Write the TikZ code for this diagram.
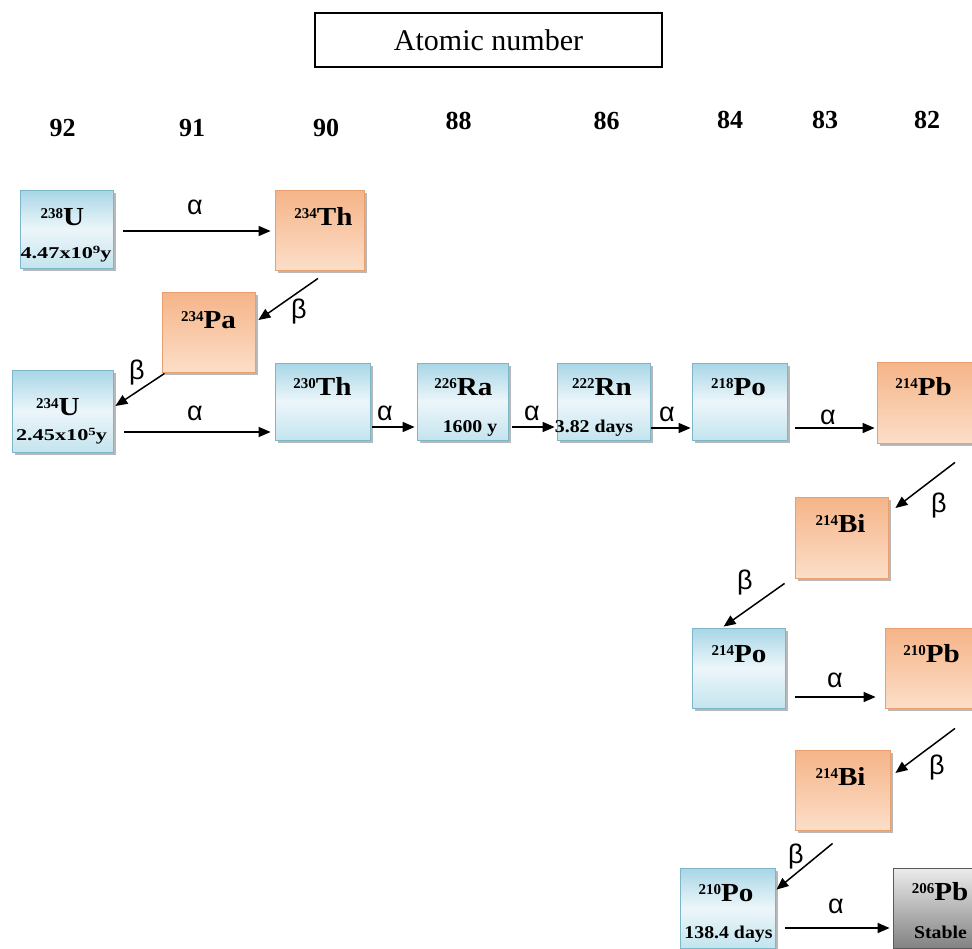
\documentclass[tikz,border=0pt]{standalone}
\usepackage{fontspec}
\setmainfont{Liberation Serif}
\newfontfamily\gk{Liberation Sans}
\usetikzlibrary{arrows.meta,shadows,calc}
\definecolor{bluetop}{RGB}{168,214,230}
\definecolor{bluemid}{RGB}{236,246,250}
\definecolor{bluebot}{RGB}{196,228,238}
\definecolor{blueedge}{RGB}{125,182,200}
\definecolor{orgtop}{RGB}{245,180,136}
\definecolor{orgbot}{RGB}{252,222,200}
\definecolor{orgedge}{RGB}{232,160,112}
\definecolor{graytop}{RGB}{236,236,236}
\definecolor{graybot}{RGB}{130,130,130}
\definecolor{grayedge}{RGB}{90,90,90}
\newcommand{\nuc}[2]{\raisebox{6.5pt}{\fontsize{15}{15}\selectfont #1}\scalebox{1.12}[1]{#2}}
\newcommand{\wlab}[1]{\scalebox{1.1}[1]{#1}}
\newcommand{\wlabx}[3]{\scalebox{1.35}[1]{#1\raisebox{5pt}{\fontsize{11}{11}\selectfont #2}#3}}
\begin{document}
\begin{tikzpicture}[x=1pt,y=-1pt,
  sh/.style={drop shadow={shadow xshift=3pt,shadow yshift=-3pt,fill=black!35,opacity=0.8}},
  bluebox/.style={sh,draw=blueedge,line width=0.8pt,top color=bluetop,bottom color=bluebot,middle color=bluemid,inner sep=0pt},
  orgbox/.style={sh,draw=orgedge,line width=0.8pt,top color=orgtop,bottom color=orgbot,inner sep=0pt},
  graybox/.style={sh,draw=grayedge,line width=0.8pt,top color=graytop,bottom color=graybot,inner sep=0pt},
  iso/.style={font=\bfseries\fontsize{26}{26}\selectfont,inner sep=0pt,anchor=base},
  life/.style={font=\bfseries\fontsize{16.5}{16.5}\selectfont,inner sep=0pt,anchor=base},
  life2/.style={font=\bfseries\fontsize{18}{18}\selectfont,inner sep=0pt,anchor=base},
  num/.style={font=\bfseries\fontsize{26}{26}\selectfont,inner sep=0pt},
  greek/.style={font=\gk\fontsize{27}{27}\selectfont,inner sep=0pt},
  arr/.style={line width=1.5pt,-{Triangle[length=12pt,width=10pt]}}]
\useasboundingbox (0,0) rectangle (972,948);

% header
\node[draw,line width=1.2pt,minimum width=347pt,minimum height=54pt,inner sep=0pt,
  font=\fontsize{30}{30}\selectfont] (hdr) at (488.5,40) {Atomic number};
\node[num] (n92) at (62.5,128) {92};
\node[num] (n91) at (192,128) {91};
\node[num] (n90) at (326,128) {90};
\node[num] (n88) at (458.5,121) {88};
\node[num] (n86) at (606.5,121) {86};
\node[num] (n84) at (730,120) {84};
\node[num] (n83) at (825,120) {83};
\node[num] (n82) at (927,120) {82};

% boxes
\node[bluebox,minimum width=93pt,minimum height=78pt] (u238) at (66.5,229) {};
\node[orgbox,minimum width=89pt,minimum height=80pt] (th234) at (319.5,230) {};
\node[orgbox,minimum width=93pt,minimum height=80pt] (pa234) at (208.5,332) {};
\node[bluebox,minimum width=101pt,minimum height=82pt] (u234) at (62.5,411) {};
\node[bluebox,minimum width=95pt,minimum height=77pt] (th230) at (322.5,401.5) {};
\node[bluebox,minimum width=91pt,minimum height=77pt] (ra226) at (462.5,401.5) {};
\node[bluebox,minimum width=93pt,minimum height=77pt] (rn222) at (603.5,401.5) {};
\node[bluebox,minimum width=95pt,minimum height=77pt] (po218) at (739.5,401.5) {};
\node[orgbox,minimum width=98pt,minimum height=81pt] (pb214) at (926,402.5) {};
\node[orgbox,minimum width=93pt,minimum height=81pt] (bi214a) at (841.5,537.5) {};
\node[bluebox,minimum width=93pt,minimum height=80pt] (po214) at (738.5,668) {};
\node[orgbox,minimum width=90pt,minimum height=80pt] (pb210) at (930,668) {};
\node[orgbox,minimum width=95pt,minimum height=80pt] (bi214b) at (842.5,790) {};
\node[bluebox,minimum width=95pt,minimum height=80pt] (po210) at (727.5,908) {};
\node[graybox,minimum width=82pt,minimum height=80pt] (pb206) at (934,908) {};

% labels
\node[iso] (l1) at (62.5,225) {\nuc{238}{U}};
\node[life] (l1b) at (66,258) {\wlabx{4.47x10}{9}{y}};
\node[iso] (l2) at (323.5,225) {\nuc{234}{Th}};
\node[iso] (l3) at (208.5,328) {\nuc{234}{Pa}};
\node[iso] (l4) at (58,415) {\nuc{234}{U}};
\node[life] (l4b) at (61.5,440) {\wlabx{2.45x10}{5}{y}};
\node[iso] (l5) at (322.5,395) {\nuc{230}{Th}};
\node[iso] (l6) at (463.5,395) {\nuc{226}{Ra}};
\node[life2] (l6b) at (470,432) {\wlab{1600 y}};
\node[iso] (l7) at (602,395) {\nuc{222}{Rn}};
\node[life2] (l7b) at (594,432) {\wlab{3.82 days}};
\node[iso] (l8) at (738.5,395) {\nuc{218}{Po}};
\node[iso] (l9) at (923.5,395) {\nuc{214}{Pb}};
\node[iso] (l10) at (840.5,532) {\nuc{214}{Bi}};
\node[iso] (l11) at (739,662) {\nuc{214}{Po}};
\node[iso] (l12) at (931.5,662) {\nuc{210}{Pb}};
\node[iso] (l13) at (840.5,785) {\nuc{214}{Bi}};
\node[iso] (l14) at (726,901) {\nuc{210}{Po}};
\node[life2] (l14b) at (728.5,938) {\wlab{138.4 days}};
\node[iso] (l15) at (940,900) {\nuc{206}{Pb}};
\node[life2] (l15b) at (940.5,938) {\wlab{Stable}};

% arrows
\draw[arr] ($(u238.east)+(10,2)$) -- ($(th234.west)+(-4,1)$);
\draw[arr] ($(th234.south)+(-1.5,8)$) -- ($(pa234.east)+(3,-12)$);
\draw[arr] ($(pa234.south west)+(3,1)$) -- ($(u234.east)+(2,-5)$);
\draw[arr] ($(u234.east)+(11,21)$) -- ($(th230.west)+(-4,30.5)$);
\draw[arr] ($(th230.east)+(2,25.5)$) -- ($(ra226.west)+(-2,25.5)$);
\draw[arr] ($(ra226.east)+(4,25.5)$) -- ($(rn222.west)+(-2,25.5)$);
\draw[arr] ($(rn222.east)+(1,26.5)$) -- ($(po218.west)+(-1,26.5)$);
\draw[arr] ($(po218.east)+(8,26.5)$) -- ($(pb214.west)+(-2,25.5)$);
\draw[arr] ($(pb214.south)+(29,19)$) -- ($(bi214a.east)+(7,-29.5)$);
\draw[arr] ($(bi214a.south west)+(-10,5)$) -- ($(po214.north west)+(32,-1)$);
\draw[arr] ($(po214.east)+(10,29)$) -- ($(pb210.west)+(-9,29)$);
\draw[arr] ($(pb210.south)+(25,20)$) -- ($(bi214b.east)+(5,-17)$);
\draw[arr] ($(bi214b.south west)+(38,13)$) -- ($(po210.north east)+(1,22)$);
\draw[arr] ($(po210.east)+(10,20)$) -- ($(pb206.west)+(-3,20)$);

% decay labels
\node[greek] (g1) at (195,207) {α};
\node[greek] (g2) at (299,312) {β};
\node[greek] (g3) at (137,373) {β};
\node[greek] (g4) at (195,413) {α};
\node[greek] (g5) at (385,413) {α};
\node[greek] (g6) at (532,413) {α};
\node[greek] (g7) at (667,414) {α};
\node[greek] (g8) at (828,417) {α};
\node[greek] (g9) at (939,506) {β};
\node[greek] (g10) at (745,583) {β};
\node[greek] (g11) at (835,680) {α};
\node[greek] (g12) at (937,768) {β};
\node[greek] (g13) at (796,857) {β};
\node[greek] (g14) at (836,906) {α};
\end{tikzpicture}
\end{document}
